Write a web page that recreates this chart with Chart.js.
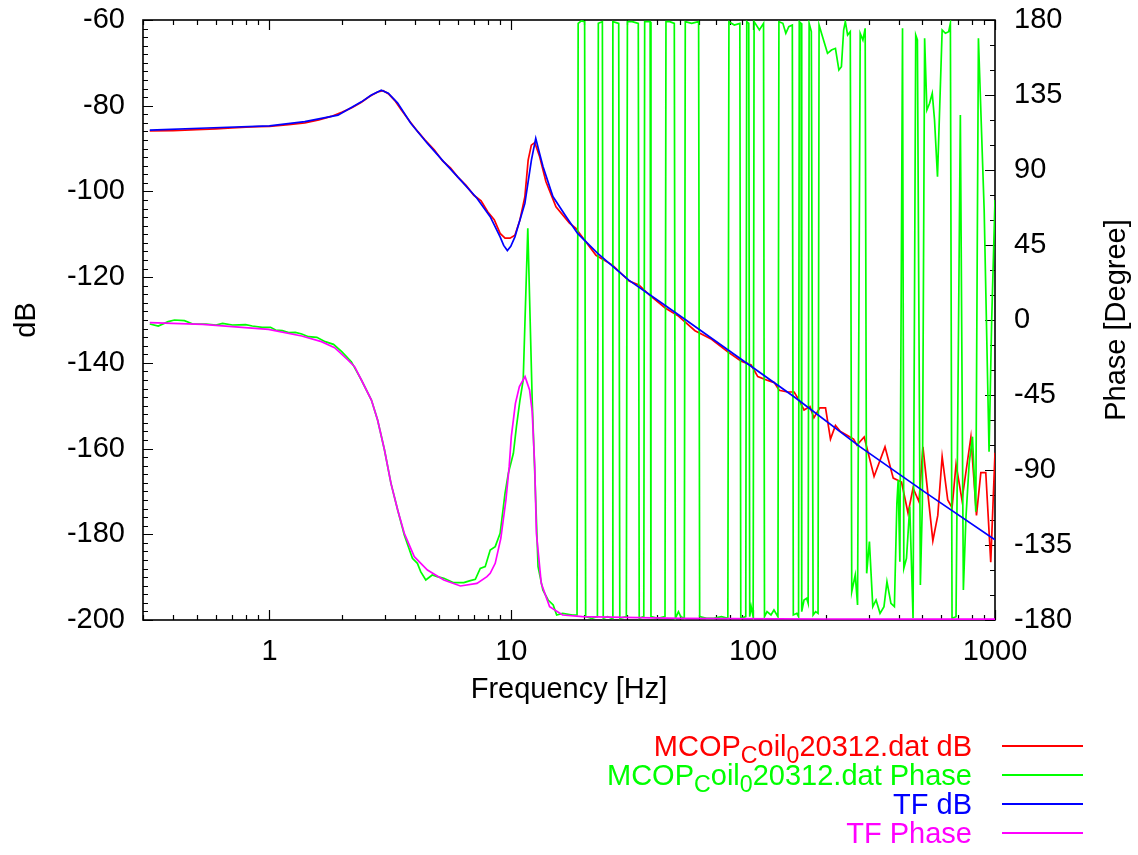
<!DOCTYPE html>
<html>
<head>
<meta charset="utf-8">
<script src="https://cdn.jsdelivr.net/npm/chart.js@4.4.1/dist/chart.umd.min.js"></script>
<style>
  html, body { margin: 0; padding: 0; background: #fff; }
  #wrap { position: relative; width: 1138px; height: 855px; }
  #legend { position: absolute; left: 0; top: 0; width: 1138px; height: 855px; pointer-events: none;
    font-family: "Liberation Sans", Arial, Helvetica, sans-serif; font-size: 29px; }
  .row { position: absolute; right: 166px; height: 29px; line-height: 29px; white-space: nowrap; text-align: right; }
  .row sub { font-size: 0.8em; vertical-align: -0.3em; line-height: 0; }
  .swatch { position: absolute; left: 1002px; width: 81px; height: 1.7px; }
</style>
</head>
<body>
<div id="wrap">
  <canvas id="chart" width="1138" height="855"></canvas>
  <div id="legend"></div>
</div>
<script>
// series names (gnuplot enhanced text: _x = subscript)
const seriesNames = ['MCOP_Coil_020312.dat dB', 'MCOP_Coil_020312.dat Phase', 'TF dB', 'TF Phase'];
const seriesColors = ['#ff0000', '#00ff00', '#0000ff', '#ff00ff'];

// tick labels
const freqTicks = [1, 10, 100, 1000];
const dbTicks = [-200, -180, -160, -140, -120, -100, -80, -60];
const phaseTicks = [-180, -135, -90, -45, 0, 45, 90, 135, 180];

// measured magnitude [dB]
const measDbFreq = [
  0.32, 0.40, 0.50, 0.60, 0.70, 0.80, 0.90, 1.0, 1.2, 1.4,
  1.6, 1.8, 2.0, 2.2, 2.4, 2.6, 2.8, 2.95, 3.1, 3.3,
  3.5, 3.8, 4.1, 4.4, 4.8, 5.2, 5.6, 6.0, 6.5, 7.0,
  7.5, 8.0, 8.5, 8.99, 9.42, 9.88, 10.35, 10.85, 11.38, 11.74,
  12.1, 12.5, 13.1, 13.9, 15.3, 17.4, 18.5, 19.4, 22.4, 26.2,
  30.7, 33.7, 37.0, 43.3, 49.1, 57.5, 67.3, 78.8, 89.3, 98.1,
  104.5, 114.9, 122.3, 128.2, 138.8, 147.7, 154.8, 162.3, 171.7, 178.3,
  188.7, 199.2, 208.8, 218.9, 229.5, 244.4, 260.1, 268.6, 287.8, 316.2,
  350.9, 379.5, 410.7, 437.0, 458.3, 485.0, 503.5, 553.4, 580.0, 604.6,
  637.7, 664.4, 690.1, 730.2, 795.0, 838.3, 873.8, 915.9, 960.3, 1000
];
const measDb = [
  -85.9, -85.8, -85.6, -85.4, -85.2, -85.0, -84.9, -84.8, -84.4, -84.0,
  -83.3, -82.5, -81.5, -80.4, -79.2, -77.8, -76.8, -76.5, -77.2, -78.8,
  -80.9, -83.6, -86.0, -88.0, -90.3, -92.9, -94.5, -96.6, -98.6, -100.9,
  -102.2, -104.8, -106.6, -109.8, -110.9, -110.9, -110.2, -106.7, -101.2, -92.7,
  -89.2, -88.6, -91.9, -97.7, -103.6, -107.4, -108.6, -110.2, -114.9, -117.2,
  -120.9, -121.8, -124.0, -127.2, -129.1, -132.5, -134.5, -137.5, -139.6, -140.5,
  -143.2, -144.1, -144.6, -146.4, -146.8, -146.8, -148.7, -151.0, -150.2, -152.8,
  -150.5, -150.5, -157.8, -154.6, -156.0, -156.9, -157.8, -159.2, -157.3, -166.5,
  -159.6, -166.9, -167.8, -175.1, -169.2, -172.4, -159.6, -181.5, -175.6, -161.9,
  -172.0, -173.8, -163.7, -172.0, -157.3, -175.6, -165.6, -165.6, -186.5, -161
];

// measured phase [deg]
const measPhaseFreq = [
  0.32, 0.347, 0.381, 0.405, 0.445, 0.482, 0.547, 0.601, 0.640, 0.703,
  0.797, 0.849, 0.933, 1.01, 1.06, 1.13, 1.20, 1.28, 1.36, 1.45,
  1.57, 1.70, 1.84, 1.99, 2.18, 2.40, 2.64, 2.80, 2.99, 3.18,
  3.39, 3.61, 3.90, 4.09, 4.22, 4.43, 4.71, 4.94, 5.26, 5.78,
  6.36, 6.77, 7.10, 7.44, 7.80, 8.18, 8.58, 8.99, 9.42, 9.72,
  10.2, 10.5, 10.86, 11.2, 11.7, 12.2, 12.9, 13.5, 14.2, 14.9,
  15.4, 16.3, 17.9, 18.7,
  18.9, 19.5, 20.1, 20.3, 21.5, 22.7, 22.9, 23.8, 24.0, 25.0,
  26.1, 26.3, 27.8, 28.1, 29.9, 30.2, 31.6, 33.5, 33.8, 35.3,
  35.6, 37.5, 37.8, 40.4, 43.2, 43.6, 45.2, 47.2, 47.7, 49.1,
  50.2, 51.9, 52.4, 55.7, 59.5, 60.1, 64.2, 68.6, 73.9, 78.6,
  79.4, 83.6, 88.1, 88.9, 93.2, 94.1, 95.9, 96.8, 98.1, 100,
  100.9, 106.1, 110.4, 111.4, 114.1, 118.5, 121.9, 126.6, 127.8, 132.7,
  136.5, 140.4, 145.2, 146.6, 151.5, 154.1, 155.1, 157.8, 158.8, 162.3,
  166.4, 168.8, 170.4, 174.0, 177.0, 181.2, 185.5, 187.3, 193.6, 203.0,
  210.8, 218.9, 226.2, 231.7, 236.7, 240.5, 245.8, 252.1, 255.7, 264.3,
  270.2, 277.1, 284.3, 290.5, 294.7, 302.5, 312.4, 322.3, 334.7, 347.5,
  357.5, 371.3, 383.7, 392.9, 397.7, 404.2, 414.6, 419.8, 430.5, 444.2,
  458.3, 470.1, 477.7, 491.4, 500.8, 511.7, 522.9, 536.4, 550.3, 562.3,
  578.4, 604.6, 623.7, 643.4, 653.9, 664.4, 690, 719, 740, 758,
  782, 807, 833, 854, 902, 945, 969, 1000
];
const measPhase = [
  -2.4, -3.6, -1, 0, -0.4, -2.4, -2.4, -3, -2, -3,
  -2.8, -3.6, -4.4, -4.4, -6, -6.4, -7.6, -7.4, -8.4, -10,
  -10.4, -13, -14.6, -19, -25, -36, -48, -60, -78, -98,
  -114, -129, -143, -146, -151, -156, -153, -154, -155, -157.6,
  -157.6, -156.4, -155.6, -149, -148, -138, -136, -128, -104, -92,
  -80, -64, -48, -36, 55, -48, -148, -162, -168, -171,
  -177, -176, -177, -177,
  178, 179.5, 179, -178, -179, -178, 178, 179, -179, -178,
  -179, 179, 178, -179, -178, 179, 179, 178, -179, -178,
  179, 179, -178, -179, -178, 179, 179, 178, -179, -175,
  -178, -179, 179, 178, 179, -178, -179, -179, -178, -179,
  179, 177, 178, -179, -178, 179, 178, -178, -172, -178,
  179, 174, 178, -178, -175, -177, -174, -178, 179, 178,
  172, 176, 177, -177, -176, -178, 179, 178, -175, -168,
  -167, -170, 178, 173, -177, -175, -176, 177, 170, 160,
  162, 163, 150, 152, 174, 179, 171, 173, -163, -153,
  -171, 172, 168, 175, -152, -133, -172, -168, -176, -172,
  -157, -170, -172, -110, -96, -145, 175, -149, -143, -112,
  -179, 171, 168, -159, -110, 169, 126, 130, 136, 120,
  86, 174, 172, 173, 178, -179, -178, 123, -162, -119,
  -86, -70, -115, 169, 66, -79, 0, 72
];

// transfer function model
const tfDbFreq = [
  0.32, 0.55, 1.0, 1.4, 1.92, 2.05, 2.4, 2.64, 2.9, 3.1,
  3.39, 3.84, 4.5, 5.26, 6.16, 7.21, 8.18, 8.99, 9.3, 9.63,
  9.95, 10.35, 11.38, 12.11, 12.62, 13.0, 13.52, 14.86, 16.86, 18.8,
  22.7, 30.6, 42.0, 51.5, 78.8, 147.6, 277, 520, 1000
];
const tfDb = [
  -85.7, -85.2, -84.7, -83.7, -82.2, -81.3, -79.1, -77.5, -76.4, -77.1,
  -79.4, -84.1, -88.8, -93.1, -97.3, -101.6, -105.9, -110.6, -112.6, -113.8,
  -112.8, -110.6, -102.8, -92.7, -87.6, -90.5, -94.2, -101.2, -105.9, -109.8,
  -114.4, -120.7, -126.1, -129.6, -137.0, -147.9, -159.6, -170.4, -181.3
];
const tfPhaseFreq = [
  0.32, 0.53, 0.99, 1.36, 1.64, 1.86, 2.11, 2.25, 2.40, 2.64,
  2.80, 2.99, 3.18, 3.39, 3.61, 3.97, 4.50, 5.26, 6.16, 7.21,
  7.93, 8.18, 8.58, 9.05, 9.5, 9.8, 10.0, 10.4, 10.8, 11.4,
  11.9, 12.2, 12.5, 12.7, 13.3, 14.4, 16.3, 19.7, 50, 200, 1000
];
const tfPhase = [
  -1.6, -2.6, -5.6, -9.6, -13, -16.6, -24, -28, -36, -48,
  -60, -78, -98, -114, -128, -142, -150, -156, -159.6, -158,
  -154, -152, -146, -131, -108, -88, -70, -50, -40, -34,
  -42, -55, -88, -128, -158, -172, -177, -178, -179, -179.4, -179.5
];

function points(xs, ys) {
  return xs.map((x, i) => ({ x: x, y: ys[i] }));
}

const FONT = '"Liberation Sans", Arial, Helvetica, sans-serif';
const FONT_SIZE = 29;
Chart.defaults.font.family = FONT;
Chart.defaults.font.size = FONT_SIZE;
Chart.defaults.color = '#000';

// fixed plot box, like the gnuplot original
function fixY(s) {
  s.width = 143;
  s.paddingTop = 0;
  s.paddingBottom = 0;
}

// gnuplot style box with inward ticks (mirrored x ticks on top)
const framePlugin = {
  id: 'frame',
  beforeDatasetsDraw(chart) {
    const { ctx, chartArea: a, scales } = chart;
    ctx.save();
    ctx.strokeStyle = '#000';
    ctx.lineWidth = 1.2;
    ctx.beginPath();
    for (let d = -1; d <= 3; d++) {
      for (let k = 1; k <= 9; k++) {
        const v = k * Math.pow(10, d);
        if (v < scales.x.min * 0.999 || v > scales.x.max * 1.001) continue;
        const px = Math.round(scales.x.getPixelForValue(v)) + 0.5;
        const len = k === 1 ? 10 : 5;
        ctx.moveTo(px, a.bottom); ctx.lineTo(px, a.bottom - len);
        ctx.moveTo(px, a.top); ctx.lineTo(px, a.top + len);
      }
    }
    for (let v = dbTicks[0]; v <= dbTicks[dbTicks.length - 1]; v += 2) {
      const py = Math.round(scales.y.getPixelForValue(v)) + 0.5;
      const len = v % 20 === 0 ? 10 : 5;
      ctx.moveTo(a.left, py); ctx.lineTo(a.left + len, py);
    }
    for (let v = phaseTicks[0]; v <= phaseTicks[phaseTicks.length - 1]; v += 15) {
      const py = Math.round(scales.y2.getPixelForValue(v)) + 0.5;
      const len = v % 45 === 0 ? 10 : 5;
      ctx.moveTo(a.right, py); ctx.lineTo(a.right - len, py);
    }
    ctx.stroke();
    ctx.lineWidth = 1.6;
    ctx.strokeRect(a.left, a.top, a.width, a.height);
    ctx.restore();
  },
  afterDraw(chart) {
    // right axis title reads bottom-to-top like gnuplot
    const { ctx, chartArea: a } = chart;
    ctx.save();
    ctx.font = FONT_SIZE + 'px ' + FONT;
    ctx.fillStyle = '#000';
    ctx.textAlign = 'center';
    ctx.textBaseline = 'middle';
    ctx.translate(chart.width - 21, (a.top + a.bottom) / 2);
    ctx.rotate(-Math.PI / 2);
    ctx.fillText('Phase [Degree]', 0, 0);
    ctx.restore();
  }
};

const datasets = [
  { data: points(measDbFreq, measDb), yAxisID: 'y', order: 4 },
  { data: points(measPhaseFreq, measPhase), yAxisID: 'y2', order: 3 },
  { data: points(tfDbFreq, tfDb), yAxisID: 'y', order: 2 },
  { data: points(tfPhaseFreq, tfPhase), yAxisID: 'y2', order: 1 }
].map((ds, i) => Object.assign(ds, {
  label: seriesNames[i],
  borderColor: seriesColors[i],
  backgroundColor: seriesColors[i],
  borderWidth: 1.7,
  pointRadius: 0,
  tension: 0,
  fill: false
}));

const chart = new Chart(document.getElementById('chart'), {
  type: 'line',
  data: { datasets: datasets },
  plugins: [framePlugin],
  options: {
    responsive: false,
    animation: false,
    layout: { padding: { top: 20, bottom: 147, left: 0, right: 0 } },
    plugins: { legend: { display: false }, tooltip: { enabled: false } },
    scales: {
      x: {
        type: 'logarithmic',
        position: 'bottom',
        min: 0.32,
        max: 1000,
        grid: { display: false, drawTicks: false },
        border: { display: false },
        ticks: { padding: 15, maxRotation: 0, autoSkip: false, callback: v => String(v) },
        afterBuildTicks: s => { s.ticks = freqTicks.map(v => ({ value: v })); },
        afterFit: s => { s.height = 88; s.paddingLeft = 0; s.paddingRight = 0; },
        title: { display: true, text: 'Frequency [Hz]', padding: { top: 0, bottom: 0.6 } }
      },
      y: {
        type: 'linear',
        position: 'left',
        min: dbTicks[0],
        max: dbTicks[dbTicks.length - 1],
        grid: { display: false, drawTicks: false },
        border: { display: false },
        ticks: { padding: 18, callback: v => String(v) },
        afterBuildTicks: s => { s.ticks = dbTicks.map(v => ({ value: v })); },
        afterFit: fixY,
        title: { display: true, text: 'dB', padding: { top: 9.6, bottom: 0 } }
      },
      y2: {
        type: 'linear',
        position: 'right',
        min: phaseTicks[0],
        max: phaseTicks[phaseTicks.length - 1],
        grid: { display: false, drawTicks: false },
        border: { display: false },
        ticks: { padding: 19, callback: v => String(v) },
        afterBuildTicks: s => { s.ticks = phaseTicks.map(v => ({ value: v })); },
        afterFit: fixY
      }
    }
  }
});

// key in the lower right, with gnuplot-like subscripts
const legendEl = document.getElementById('legend');
chart.data.datasets.forEach((ds, i) => {
  const y = 746 + i * 29;
  const row = document.createElement('div');
  row.className = 'row';
  row.style.top = (y - 14.5) + 'px';
  row.style.color = ds.borderColor;
  row.innerHTML = ds.label.replace(/_(.)/g, '<sub>$1</sub>');
  legendEl.appendChild(row);
  const sw = document.createElement('div');
  sw.className = 'swatch';
  sw.style.top = (y - 0.85) + 'px';
  sw.style.background = ds.borderColor;
  legendEl.appendChild(sw);
});
</script>
</body>
</html>
